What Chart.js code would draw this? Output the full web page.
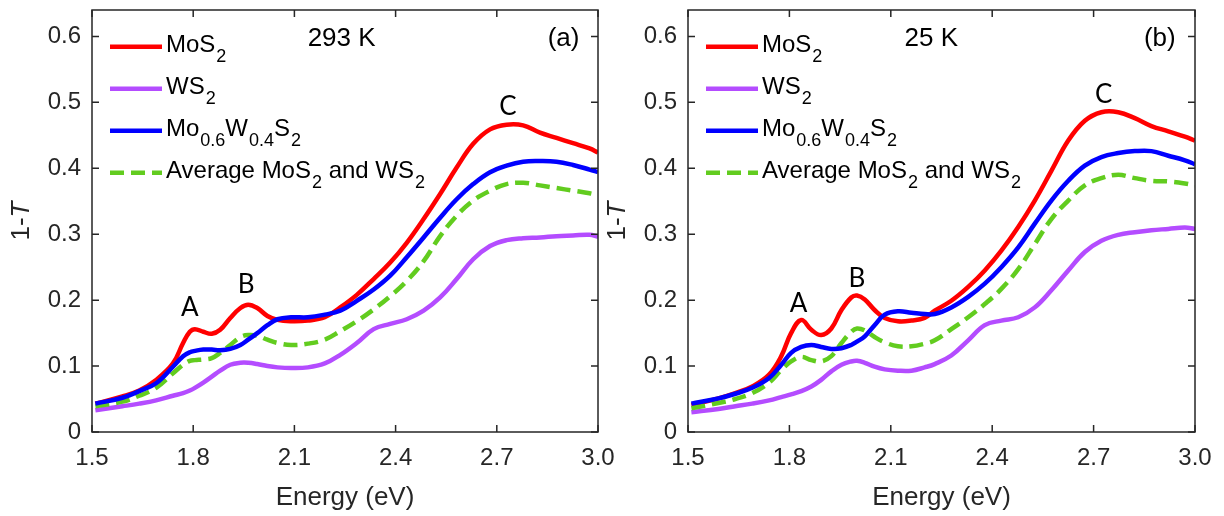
<!DOCTYPE html>
<html>
<head>
<meta charset="utf-8">
<title>1-T spectra</title>
<script src="https://cdn.jsdelivr.net/npm/chart.js@4.4.1/dist/chart.umd.min.js"></script>
<style>
  html, body { margin: 0; padding: 0; background: #fff; }
  #wrap { position: relative; width: 1224px; height: 516px; overflow: hidden; }
  canvas { position: absolute; top: 0; }
</style>
</head>
<body>
<div id="wrap">
  <canvas id="chartA" width="630" height="516" style="left:0px"></canvas>
  <canvas id="chartB" width="628" height="516" style="left:596px"></canvas>
</div>
<script>
// axis ticks
const xTicks = [1.5, 1.8, 2.1, 2.4, 2.7, 3.0];
const yTicks = [0, 0.1, 0.2, 0.3, 0.4, 0.5, 0.6];

// legend labels (_ marks a subscript)
const seriesNames = ['MoS_2', 'WS_2', 'Mo_{0.6}W_{0.4}S_2', 'Average MoS_2 and WS_2'];

// (a) 293 K
const energyA = [1.51, 1.59, 1.64, 1.69, 1.74, 1.77, 1.79, 1.805, 1.83, 1.855, 1.88, 1.91, 1.94, 1.963, 1.99,
  2.02, 2.05, 2.09, 2.14, 2.19, 2.236, 2.285, 2.335, 2.384, 2.433, 2.483, 2.532, 2.581, 2.63, 2.68,
  2.729, 2.778, 2.828, 2.877, 2.926, 2.975, 3.0];
const mos2A = [0.043, 0.054, 0.063, 0.079, 0.104, 0.135, 0.152, 0.156, 0.152, 0.149, 0.155, 0.173, 0.188, 0.193, 0.188,
  0.176, 0.170, 0.168, 0.169, 0.174, 0.189, 0.208, 0.232, 0.257, 0.287, 0.323, 0.361, 0.401, 0.437, 0.459,
  0.466, 0.465, 0.454, 0.446, 0.438, 0.430, 0.424];
const ws2A = [0.033, 0.039, 0.043, 0.048, 0.055, 0.059, 0.063, 0.067, 0.075, 0.084, 0.093, 0.102, 0.105, 0.105, 0.103,
  0.100, 0.098, 0.097, 0.098, 0.104, 0.117, 0.135, 0.156, 0.164, 0.171, 0.184, 0.204, 0.232, 0.262, 0.282,
  0.291, 0.294, 0.295, 0.297, 0.298, 0.299, 0.296];
const alloyA = [0.043, 0.052, 0.062, 0.074, 0.099, 0.115, 0.121, 0.123, 0.125, 0.125, 0.124, 0.126, 0.132, 0.140, 0.150,
  0.162, 0.171, 0.174, 0.174, 0.178, 0.184, 0.199, 0.216, 0.237, 0.265, 0.295, 0.325, 0.353, 0.376, 0.394,
  0.404, 0.410, 0.411, 0.410, 0.405, 0.398, 0.394];
const averageA = [0.039, 0.046, 0.055, 0.067, 0.089, 0.102, 0.108, 0.109, 0.110, 0.112, 0.120, 0.132, 0.144, 0.147, 0.146,
  0.140, 0.135, 0.132, 0.134, 0.140, 0.153, 0.168, 0.186, 0.206, 0.229, 0.259, 0.297, 0.328, 0.351, 0.366,
  0.376, 0.378, 0.374, 0.370, 0.366, 0.362, 0.359];

// (b) 25 K
const energyB = [1.51, 1.59, 1.64, 1.69, 1.74, 1.776, 1.805, 1.835, 1.865, 1.894, 1.924, 1.954, 1.983, 2.0, 2.023,
  2.052, 2.082, 2.121, 2.161, 2.2, 2.23, 2.279, 2.329, 2.378, 2.427, 2.477, 2.526, 2.575, 2.625, 2.674,
  2.723, 2.773, 2.822, 2.871, 2.921, 2.97, 3.0];
const mos2B = [0.041, 0.051, 0.059, 0.069, 0.087, 0.115, 0.150, 0.170, 0.155, 0.147, 0.157, 0.185, 0.204, 0.207, 0.201,
  0.185, 0.173, 0.168, 0.169, 0.173, 0.184, 0.199, 0.220, 0.245, 0.275, 0.311, 0.351, 0.396, 0.442, 0.472,
  0.485, 0.485, 0.476, 0.464, 0.456, 0.448, 0.442];
const ws2B = [0.030, 0.035, 0.039, 0.043, 0.048, 0.053, 0.057, 0.062, 0.069, 0.079, 0.092, 0.102, 0.107, 0.108, 0.105,
  0.099, 0.095, 0.093, 0.093, 0.098, 0.103, 0.116, 0.139, 0.162, 0.169, 0.174, 0.189, 0.215, 0.245, 0.273,
  0.290, 0.299, 0.303, 0.306, 0.308, 0.310, 0.308];
const alloyB = [0.043, 0.051, 0.058, 0.067, 0.082, 0.102, 0.120, 0.129, 0.132, 0.129, 0.126, 0.127, 0.132, 0.137, 0.145,
  0.162, 0.178, 0.183, 0.181, 0.179, 0.179, 0.189, 0.205, 0.225, 0.250, 0.280, 0.316, 0.351, 0.381, 0.404,
  0.417, 0.423, 0.426, 0.426, 0.419, 0.412, 0.406];
const averageB = [0.036, 0.044, 0.050, 0.059, 0.075, 0.094, 0.107, 0.114, 0.109, 0.107, 0.115, 0.135, 0.152, 0.157, 0.154,
  0.144, 0.136, 0.130, 0.130, 0.134, 0.139, 0.156, 0.174, 0.194, 0.217, 0.247, 0.285, 0.323, 0.351, 0.374,
  0.385, 0.390, 0.385, 0.381, 0.380, 0.377, 0.374];

const SANS = '"Liberation Sans", Arial, Helvetica, sans-serif';
const AXIS_COLOR = '#262626';
const colors = ['#ff0000', '#b44cff', '#0000ff', '#62cc1f'];
const dashes = [[], [], [], [14, 7]];
const drawOrder = [4, 3, 1, 2]; // blue on top

// split "Mo_{0.6}W_{0.4}S_2" into normal / subscript runs
function parseSub(str) {
  const parts = [];
  const re = /_\{([^}]*)\}|_(.)|([^_]+)/g;
  let m;
  while ((m = re.exec(str))) {
    if (m[1] !== undefined) parts.push({ text: m[1], sub: true });
    else if (m[2] !== undefined) parts.push({ text: m[2], sub: true });
    else parts.push({ text: m[3], sub: false });
  }
  return parts;
}

function drawRich(ctx, str, x, baseline) {
  parseSub(str).forEach(p => {
    ctx.font = p.sub ? '18px ' + SANS : '24px ' + SANS;
    const y = p.sub ? baseline + 9.5 : baseline;
    ctx.fillText(p.text, x, y);
    x += ctx.measureText(p.text).width + (p.sub ? 0 : 1);
  });
}

// box with inward ticks on all four sides
const framePlugin = {
  id: 'frame',
  afterDatasetsDraw(chart) {
    const { ctx, chartArea: a, scales: { x, y } } = chart;
    ctx.save();
    ctx.strokeStyle = AXIS_COLOR;
    ctx.lineWidth = 1.5;
    ctx.strokeRect(a.left, a.top, a.right - a.left, a.bottom - a.top);
    ctx.beginPath();
    x.ticks.forEach(t => {
      const px = x.getPixelForValue(t.value);
      ctx.moveTo(px, a.bottom); ctx.lineTo(px, a.bottom - 7);
      ctx.moveTo(px, a.top); ctx.lineTo(px, a.top + 7);
    });
    y.ticks.forEach(t => {
      const py = y.getPixelForValue(t.value);
      ctx.moveTo(a.left, py); ctx.lineTo(a.left + 7, py);
      ctx.moveTo(a.right, py); ctx.lineTo(a.right - 7, py);
    });
    ctx.stroke();
    ctx.restore();
  }
};

// y title "1-T" with italic T
const yTitlePlugin = {
  id: 'yTitle',
  afterDraw(chart) {
    const { ctx, chartArea: a } = chart;
    const f1 = '26px ' + SANS, f2 = 'italic 26px ' + SANS;
    ctx.save();
    ctx.translate(a.left - 70, (a.top + a.bottom) / 2);
    ctx.rotate(-Math.PI / 2);
    ctx.fillStyle = AXIS_COLOR;
    ctx.textBaseline = 'middle';
    ctx.textAlign = 'left';
    ctx.font = f1; const w1 = ctx.measureText('1-').width;
    ctx.font = f2; const w2 = ctx.measureText('T').width;
    const x0 = -(w1 + w2) / 2;
    ctx.font = f1; ctx.fillText('1-', x0, 0);
    ctx.font = f2; ctx.fillText('T', x0 + w1, 0);
    ctx.restore();
  }
};

// legend with subscripts, top-left inside the axes
const legendPlugin = {
  id: 'subLegend',
  afterDraw(chart) {
    const { ctx, chartArea: a } = chart;
    ctx.save();
    chart.data.datasets.forEach((ds, i) => {
      const rowY = a.top + 36.7 + i * 42;
      ctx.strokeStyle = ds.borderColor;
      ctx.lineWidth = 4.5;
      ctx.setLineDash(ds.borderDash || []);
      ctx.beginPath();
      ctx.moveTo(a.left + 18, rowY);
      ctx.lineTo(a.left + 70, rowY);
      ctx.stroke();
      ctx.setLineDash([]);
      ctx.fillStyle = '#000';
      ctx.textAlign = 'left';
      ctx.textBaseline = 'alphabetic';
      drawRich(ctx, ds.label, a.left + 74, rowY + 5.6);
    });
    ctx.restore();
  }
};

// text placed at data coordinates
const notesPlugin = {
  id: 'notes',
  afterDraw(chart, args, opts) {
    const { ctx, scales: { x, y } } = chart;
    ctx.save();
    ctx.fillStyle = '#000';
    ctx.textAlign = 'center';
    ctx.textBaseline = 'middle';
    (opts.items || []).forEach(n => {
      ctx.font = n.font;
      ctx.fillText(n.text, x.getPixelForValue(n.x), y.getPixelForValue(n.y));
    });
    ctx.restore();
  }
};

function makePanel(canvas, energy, seriesList, notes, padRight) {
  const datasets = seriesList.map((vals, i) => ({
    label: seriesNames[i],
    data: energy.map((e, k) => ({ x: e, y: vals[k] })),
    borderColor: colors[i],
    borderDash: dashes[i],
    borderWidth: 4.5,
    pointRadius: 0,
    fill: false,
    tension: 0.4,
    order: drawOrder[i]
  }));

  return new Chart(canvas.getContext('2d'), {
    type: 'line',
    data: { datasets },
    options: {
      responsive: false,
      animation: false,
      events: [],
      layout: { padding: { left: 0, right: padRight, top: 10, bottom: 0 } },
      scales: {
        x: {
          type: 'linear',
          min: 1.5,
          max: 3.0,
          afterBuildTicks: s => { s.ticks = xTicks.map(v => ({ value: v })); },
          afterFit: s => { s.height = 84; },
          grid: { display: false, drawTicks: false },
          border: { display: false },
          ticks: {
            padding: 12,
            color: AXIS_COLOR,
            font: { family: SANS, size: 24 },
            maxRotation: 0,
            callback: v => Number(v).toFixed(1)
          },
          title: {
            display: true,
            text: 'Energy (eV)',
            color: AXIS_COLOR,
            font: { family: SANS, size: 26 },
            padding: { top: 0, bottom: 3 }
          }
        },
        y: {
          min: 0,
          max: 0.64,
          afterBuildTicks: s => { s.ticks = yTicks.map(v => ({ value: v })); },
          afterFit: s => { s.width = 92; s.paddingTop = 0; s.paddingBottom = 0; },
          grid: { display: false, drawTicks: false },
          border: { display: false },
          ticks: {
            padding: 11,
            color: AXIS_COLOR,
            font: { family: SANS, size: 24 },
            callback: v => (v === 0 ? '0' : Number(v).toFixed(1))
          }
        }
      },
      plugins: {
        legend: { display: false },
        tooltip: { enabled: false },
        notes: { items: notes }
      }
    },
    plugins: [framePlugin, yTitlePlugin, legendPlugin, notesPlugin]
  });
}

const labelFont = '26px ' + SANS;
const peakFont = '26px Lato, "Open Sans", sans-serif';

makePanel(document.getElementById('chartA'), energyA, [mos2A, ws2A, alloyA, averageA], [
  { text: '293 K', x: 2.24, y: 0.597, font: labelFont },
  { text: '(a)', x: 2.898, y: 0.597, font: labelFont },
  { text: 'A', x: 1.79, y: 0.189, font: peakFont },
  { text: 'B', x: 1.957, y: 0.223, font: peakFont },
  { text: 'C', x: 2.733, y: 0.493, font: peakFont }
], 32);

makePanel(document.getElementById('chartB'), energyB, [mos2B, ws2B, alloyB, averageB], [
  { text: '25 K', x: 2.22, y: 0.597, font: labelFont },
  { text: '(b)', x: 2.896, y: 0.597, font: labelFont },
  { text: 'A', x: 1.827, y: 0.194, font: peakFont },
  { text: 'B', x: 2.0, y: 0.232, font: peakFont },
  { text: 'C', x: 2.73, y: 0.512, font: peakFont }
], 29);
</script>
</body>
</html>
